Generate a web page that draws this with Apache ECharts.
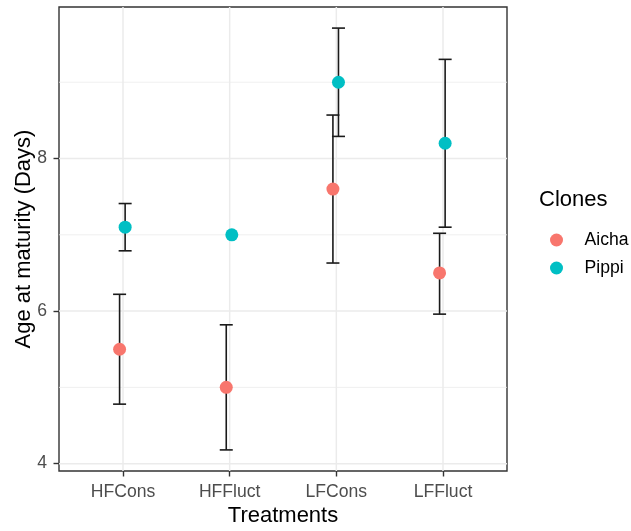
<!DOCTYPE html>
<html>
<head>
<meta charset="utf-8">
<script src="https://cdn.jsdelivr.net/npm/echarts@6/dist/echarts.min.js"></script>
<style>
  html, body { margin: 0; padding: 0; background: #fff; }
  #chart { width: 631px; height: 531px; }
</style>
</head>
<body>
<div id="chart"></div>
<script>
// Age at maturity per treatment, mean with error range, for two clones
const categories = ['HFCons', 'HFFluct', 'LFCons', 'LFFluct'];
const aichaMean = [5.5, 5.0, 7.6, 6.5];
const aichaLow  = [4.78, 4.18, 6.63, 5.96];
const aichaHigh = [6.22, 5.82, 8.57, 7.02];
const pippiMean = [7.1, 7.0, 9.0, 8.2];
const pippiLow  = [6.79, null, 8.29, 7.10];
const pippiHigh = [7.41, null, 9.71, 9.30];
const yMajorTicks = [4, 6, 8];
const yMinorTicks = [5, 7, 9];

const FONT = '"Liberation Sans", Arial, sans-serif';
const AICHA_COLOR = '#F8766D';
const PIPPI_COLOR = '#00BFC4';

// Continuous scale with 5% padding, like a default ggplot y scale
const allY = [].concat(aichaMean, aichaLow, aichaHigh, pippiMean, pippiLow, pippiHigh)
  .filter(v => v != null);
const yLo = Math.min.apply(null, allY);
const yHi = Math.max.apply(null, allY);
const yPad = (yHi - yLo) * 0.05;
const yMin = yLo - yPad;
const yMax = yHi + yPad;

// Discrete x positions 1..n with 0.6 padding on each side
const xMin = 0.4;
const xMax = categories.length + 0.6;
const catPos = categories.map((c, i) => i + 1);

const DODGE_AICHA = -0.032;
const DODGE_PIPPI = 0.02;
const WHISKER_HALF = 0.061;

function pointData(means, dodge) {
  return means.map((m, i) => [catPos[i] + dodge, m]);
}
function barData(lows, highs, dodge) {
  const out = [];
  lows.forEach((lo, i) => {
    if (lo != null && highs[i] != null) out.push([catPos[i] + dodge, lo, highs[i]]);
  });
  return out;
}

function errorBarRender(params, api) {
  const x = api.value(0);
  const lo = api.coord([x, api.value(1)]);
  const hi = api.coord([x, api.value(2)]);
  const left = api.coord([x - WHISKER_HALF, api.value(1)])[0];
  const right = api.coord([x + WHISKER_HALF, api.value(1)])[0];
  const style = { stroke: '#1a1a1a', lineWidth: 1.6 };
  return {
    type: 'group',
    children: [
      { type: 'line', shape: { x1: lo[0], y1: lo[1], x2: hi[0], y2: hi[1] }, style: style },
      { type: 'line', shape: { x1: left, y1: lo[1], x2: right, y2: lo[1] }, style: style },
      { type: 'line', shape: { x1: left, y1: hi[1], x2: right, y2: hi[1] }, style: style }
    ]
  };
}

// Panel grid lines: [orientation (0 = horizontal, 1 = vertical), value, isMajor]
const gridLineData = []
  .concat(yMinorTicks.map(v => [0, v, 0]))
  .concat(yMajorTicks.map(v => [0, v, 1]))
  .concat(catPos.map(v => [1, v, 1]));

function gridLineRender(params, api) {
  const cs = params.coordSys;
  const dir = api.value(0);
  const v = api.value(1);
  const major = api.value(2) === 1;
  const style = major ? { stroke: '#EBEBEB', lineWidth: 1.5 } : { stroke: '#EBEBEB', lineWidth: 0.8 };
  if (dir === 0) {
    const y = api.coord([xMin, v])[1];
    return { type: 'line', shape: { x1: cs.x, y1: y, x2: cs.x + cs.width, y2: y }, style: style };
  }
  const x = api.coord([v, yMin])[0];
  return { type: 'line', shape: { x1: x, y1: cs.y, x2: x, y2: cs.y + cs.height }, style: style };
}

const chart = echarts.init(document.getElementById('chart'), null, { renderer: 'canvas' });

chart.setOption({
  animation: false,
  backgroundColor: '#ffffff',
  textStyle: { fontFamily: FONT },
  title: {
    text: 'Clones',
    left: 539,
    top: 189,
    padding: 0,
    textStyle: { fontFamily: FONT, fontSize: 22, fontWeight: 'normal', color: '#000' }
  },
  legend: {
    data: ['Aicha', 'Pippi'],
    orient: 'vertical',
    left: 550,
    top: 231,
    padding: 0,
    itemWidth: 46,
    itemHeight: 13,
    itemGap: 10,
    symbolKeepAspect: true,
    textStyle: { fontFamily: FONT, fontSize: 17.6, color: '#000' }
  },
  grid: {
    left: 59,
    top: 7,
    width: 448,
    height: 464,
    containLabel: false,
    outerBoundsMode: 'none',
    show: true,
    borderColor: '#333333',
    borderWidth: 1.4,
    backgroundColor: 'transparent'
  },
  xAxis: {
    type: 'value',
    min: xMin,
    max: xMax,
    name: 'Treatments',
    nameLocation: 'middle',
    nameGap: 34,
    nameMoveOverlap: false,
    nameTextStyle: { fontFamily: FONT, fontSize: 22, color: '#000' },
    axisLine: { show: false },
    splitLine: { show: false },
    axisTick: {
      show: true,
      customValues: catPos,
      length: 5.5,
      lineStyle: { color: '#333333', width: 1.4 }
    },
    axisLabel: {
      customValues: catPos,
      margin: 12,
      fontFamily: FONT,
      fontSize: 17.6,
      color: '#4D4D4D',
      formatter: v => categories[Math.round(v) - 1] || ''
    }
  },
  yAxis: {
    type: 'value',
    min: yMin,
    max: yMax,
    name: 'Age at maturity (Days)',
    nameLocation: 'middle',
    nameGap: 24,
    nameMoveOverlap: false,
    nameTextStyle: { fontFamily: FONT, fontSize: 22, color: '#000' },
    axisLine: { show: false },
    splitLine: { show: false },
    axisTick: {
      show: true,
      customValues: yMajorTicks,
      length: 5.5,
      lineStyle: { color: '#333333', width: 1.4 }
    },
    axisLabel: {
      customValues: yMajorTicks,
      margin: 12,
      fontFamily: FONT,
      fontSize: 17.6,
      color: '#4D4D4D'
    }
  },
  series: [
    {
      name: 'gridlines',
      type: 'custom',
      silent: true,
      z: 0,
      renderItem: gridLineRender,
      data: gridLineData
    },
    {
      name: 'Aicha range',
      type: 'custom',
      silent: true,
      z: 2,
      renderItem: errorBarRender,
      encode: { x: 0, y: [1, 2] },
      data: barData(aichaLow, aichaHigh, DODGE_AICHA)
    },
    {
      name: 'Pippi range',
      type: 'custom',
      silent: true,
      z: 2,
      renderItem: errorBarRender,
      encode: { x: 0, y: [1, 2] },
      data: barData(pippiLow, pippiHigh, DODGE_PIPPI)
    },
    {
      name: 'Aicha',
      type: 'scatter',
      z: 3,
      symbol: 'circle',
      symbolSize: 13,
      itemStyle: { color: AICHA_COLOR, opacity: 1 },
      data: pointData(aichaMean, DODGE_AICHA)
    },
    {
      name: 'Pippi',
      type: 'scatter',
      z: 3,
      symbol: 'circle',
      symbolSize: 13,
      itemStyle: { color: PIPPI_COLOR, opacity: 1 },
      data: pointData(pippiMean, DODGE_PIPPI)
    }
  ]
});
</script>
</body>
</html>
